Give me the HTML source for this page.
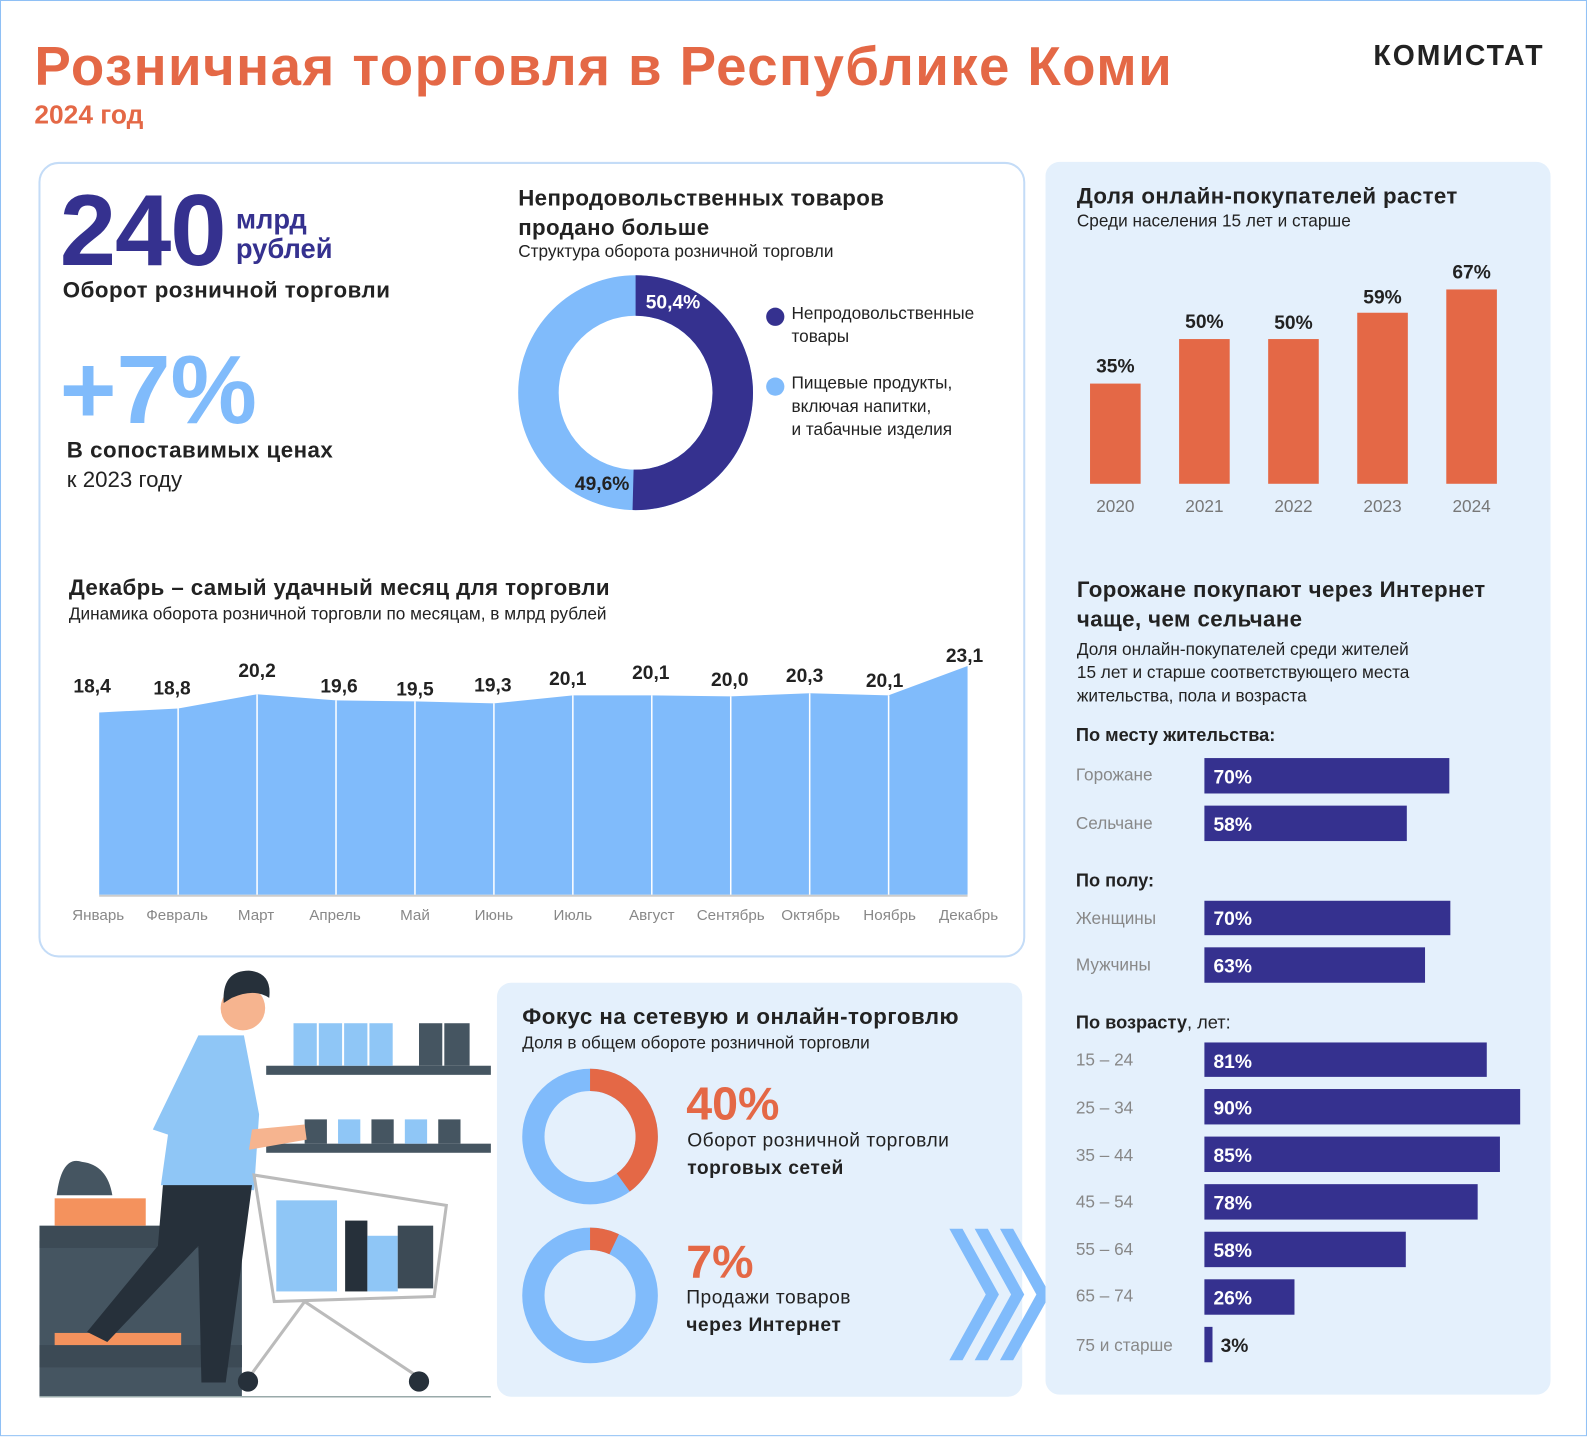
<!DOCTYPE html>
<html><head><meta charset="utf-8"><style>
*{margin:0;padding:0;box-sizing:border-box}
body{width:1587px;height:1436px;overflow:hidden;background:#fff;font-family:"Liberation Sans",sans-serif;color:#222}
#w{position:absolute;left:0;top:0;width:1568px;height:1419px;transform:scale(1.0121);transform-origin:0 0;border:1px solid #8fc0f5}
.a{position:absolute;white-space:nowrap}
.b{font-weight:bold}
</style></head><body><div id="w">
<div class="a b" style="left:33px;top:34px;font-size:54px;color:#e46846;letter-spacing:1.4px">Розничная торговля в Республике Коми</div>
<div class="a b" style="left:33px;top:97px;font-size:26px;color:#e46846">2024 год</div>
<div class="a b" style="left:1356px;top:38px;font-size:28px;color:#222;letter-spacing:2px">КОМИСТАТ</div>

<div class="a" style="left:37px;top:159px;width:975px;height:786px;border:2px solid #c4dcf7;border-radius:20px"></div>
<div class="a" style="left:1032px;top:159px;width:499px;height:1218px;background:#e4f0fc;border-radius:14px"></div>
<div class="a" style="left:490px;top:970px;width:519px;height:409px;background:#e4f0fc;border-radius:14px"></div>

<div class="a b" style="left:58px;top:170px;font-size:100px;color:#35318f;letter-spacing:-1px">240</div>
<div class="a b" style="left:232px;top:202px;font-size:27px;line-height:29px;color:#35318f">млрд<br>рублей</div>
<div class="a b" style="left:61px;top:273px;font-size:22px;letter-spacing:0.5px">Оборот розничной торговли</div>
<div class="a b" style="left:58px;top:330px;font-size:96px;color:#80bbfb">+7%</div>
<div class="a b" style="left:65px;top:431px;font-size:22px;letter-spacing:0.5px">В сопоставимых ценах</div>
<div class="a" style="left:65px;top:460px;font-size:22px">к 2023 году</div>

<div class="a b" style="left:511px;top:180px;font-size:22px;line-height:29px;letter-spacing:0.4px">Непродовольственных товаров<br>продано больше</div>
<div class="a" style="left:511px;top:238px;font-size:17px">Структура оборота розничной торговли</div>
<svg class="a" style="left:0;top:0" width="1568" height="1419">
<circle cx="627" cy="387" r="96" fill="none" stroke="#80bbfb" stroke-width="40"/>
<circle cx="627" cy="387" r="96" fill="none" stroke="#35318f" stroke-width="40" stroke-dasharray="304 700" transform="rotate(-90 627 387)"/>
<circle cx="765" cy="312" r="9" fill="#35318f"/>
<circle cx="765" cy="381" r="9" fill="#80bbfb"/>
<polygon fill="#80bbfb" points="97,883 97,703 175,699 253,685 331,691 409,692 487,694 565,686 643,686 721,687 799,684 877,686 955,657 955,883"/>
<g stroke="#fff" stroke-width="1.5"><line x1="175" y1="699" x2="175" y2="883"/><line x1="253" y1="685" x2="253" y2="883"/><line x1="331" y1="691" x2="331" y2="883"/><line x1="409" y1="692" x2="409" y2="883"/><line x1="487" y1="694" x2="487" y2="883"/><line x1="565" y1="686" x2="565" y2="883"/><line x1="643" y1="686" x2="643" y2="883"/><line x1="721" y1="687" x2="721" y2="883"/><line x1="799" y1="684" x2="799" y2="883"/><line x1="877" y1="686" x2="877" y2="883"/></g>
<line x1="97" y1="884" x2="955" y2="884" stroke="#ccc" stroke-width="2"/>
<g font-family="Liberation Sans" font-size="19" font-weight="bold" fill="#222" text-anchor="middle">
<text x="90" y="683">18,4</text><text x="169" y="685">18,8</text><text x="253" y="668">20,2</text><text x="334" y="683">19,6</text><text x="409" y="686">19,5</text><text x="486" y="682">19,3</text><text x="560" y="676">20,1</text><text x="642" y="670">20,1</text><text x="720" y="677">20,0</text><text x="794" y="673">20,3</text><text x="873" y="678">20,1</text><text x="952" y="653">23,1</text></g>
<g font-family="Liberation Sans" font-size="15" fill="#888" text-anchor="middle">
<text x="96" y="908">Январь</text><text x="174" y="908">Февраль</text><text x="252" y="908">Март</text><text x="330" y="908">Апрель</text><text x="409" y="908">Май</text><text x="487" y="908">Июнь</text><text x="565" y="908">Июль</text><text x="643" y="908">Август</text><text x="721" y="908">Сентябрь</text><text x="800" y="908">Октябрь</text><text x="878" y="908">Ноябрь</text><text x="956" y="908">Декабрь</text></g>
<g fill="#e46846"><rect x="1076" y="378" width="50" height="99"/><rect x="1164" y="334" width="50" height="143"/><rect x="1252" y="334" width="50" height="143"/><rect x="1340" y="308" width="50" height="169"/><rect x="1428" y="285" width="50" height="192"/></g>
<g font-family="Liberation Sans" font-size="19" font-weight="bold" fill="#222" text-anchor="middle"><text x="1101" y="367">35%</text><text x="1189" y="323">50%</text><text x="1277" y="324">50%</text><text x="1365" y="299">59%</text><text x="1453" y="274">67%</text></g>
<g font-family="Liberation Sans" font-size="17" fill="#777" text-anchor="middle"><text x="1101" y="505">2020</text><text x="1189" y="505">2021</text><text x="1277" y="505">2022</text><text x="1365" y="505">2023</text><text x="1453" y="505">2024</text></g>
<g fill="#35318f"><rect x="1189" y="748" width="242" height="35"/><rect x="1189" y="795" width="200" height="35"/><rect x="1189" y="889" width="243" height="34"/><rect x="1189" y="935" width="218" height="35"/><rect x="1189" y="1029" width="279" height="34"/><rect x="1189" y="1075" width="312" height="35"/><rect x="1189" y="1122" width="292" height="35"/><rect x="1189" y="1169" width="270" height="35"/><rect x="1189" y="1216" width="199" height="35"/><rect x="1189" y="1263" width="89" height="35"/><rect x="1189" y="1310" width="8" height="35"/></g>
<g font-family="Liberation Sans" font-size="19" font-weight="bold" fill="#fff"><text x="1198" y="773">70%</text><text x="1198" y="820">58%</text><text x="1198" y="913">70%</text><text x="1198" y="960">63%</text><text x="1198" y="1054">81%</text><text x="1198" y="1100">90%</text><text x="1198" y="1147">85%</text><text x="1198" y="1194">78%</text><text x="1198" y="1241">58%</text><text x="1198" y="1288">26%</text><text x="1205" y="1335" fill="#222">3%</text></g>
<g font-family="Liberation Sans" font-size="17" fill="#888"><text x="1062" y="770">Горожане</text><text x="1062" y="818">Сельчане</text><text x="1062" y="912">Женщины</text><text x="1062" y="958">Мужчины</text><text x="1062" y="1052">15 – 24</text><text x="1062" y="1099">25 – 34</text><text x="1062" y="1146">35 – 44</text><text x="1062" y="1192">45 – 54</text><text x="1062" y="1239">55 – 64</text><text x="1062" y="1285">65 – 74</text><text x="1062" y="1334">75 и старше</text></g>
<circle cx="582" cy="1122" r="56" fill="none" stroke="#80bbfb" stroke-width="22"/>
<circle cx="582" cy="1122" r="56" fill="none" stroke="#e46846" stroke-width="22" stroke-dasharray="140.7 400" transform="rotate(-90 582 1122)"/>
<circle cx="582" cy="1279" r="56" fill="none" stroke="#80bbfb" stroke-width="22"/>
<circle cx="582" cy="1279" r="56" fill="none" stroke="#e46846" stroke-width="22" stroke-dasharray="24.6 400" transform="rotate(-90 582 1279)"/>
<g fill="#80bbfb"><polygon points="937,1213 950,1213 986,1278 950,1343 937,1343 973,1278"/><polygon points="962,1213 975,1213 1011,1278 975,1343 962,1343 998,1278"/><polygon points="987,1213 1000,1213 1032,1270 1032,1286 1000,1343 987,1343 1023,1278"/></g>
<g>
<rect x="262" y="1052" width="222" height="9" fill="#455561"/><rect x="262" y="1129" width="222" height="9" fill="#455561"/>
<g fill="#8fc6f6"><rect x="289" y="1010" width="23" height="42"/><rect x="314" y="1010" width="23" height="42"/><rect x="339" y="1010" width="23" height="42"/><rect x="364" y="1010" width="23" height="42"/></g>
<g fill="#455561"><rect x="413" y="1010" width="23" height="42"/><rect x="438" y="1010" width="25" height="42"/><rect x="300" y="1105" width="22" height="24"/><rect x="366" y="1105" width="22" height="24"/><rect x="432" y="1105" width="22" height="24"/></g>
<g fill="#8fc6f6"><rect x="333" y="1105" width="22" height="24"/><rect x="399" y="1105" width="22" height="24"/></g>
<rect x="38" y="1225" width="200" height="154" fill="#455561"/><rect x="38" y="1210" width="200" height="22" fill="#3c4a55"/><rect x="38" y="1328" width="200" height="22" fill="#3c4a55"/>
<rect x="53" y="1183" width="90" height="27" fill="#f4925d"/><rect x="53" y="1316" width="125" height="12" fill="#f4925d"/>
<path d="M55 1180 Q60 1140 80 1147 Q105 1150 110 1180Z" fill="#455561"/>
<circle cx="239" cy="995" r="22" fill="#f6b48f"/><path d="M220 990 Q218 958 245 958 Q268 960 265 985 Q250 975 228 985Z" fill="#26303a"/>
<path d="M195 1022 L240 1022 L255 1100 L250 1175 L158 1170 L165 1120 L150 1115Z" fill="#8fc6f6"/>
<path d="M160 1170 L248 1170 L222 1365 L198 1365 L195 1230 L105 1325 L85 1315 L155 1230Z" fill="#26303a"/>
<path d="M248 1115 L300 1110 L302 1125 L245 1135Z" fill="#f6b48f"/>
<path d="M250 1160 L440 1190 L428 1280 L270 1285Z" fill="none" stroke="#bbb" stroke-width="3"/>
<rect x="272" y="1185" width="60" height="90" fill="#8fc6f6"/><rect x="340" y="1205" width="22" height="70" fill="#26303a"/><rect x="362" y="1220" width="30" height="55" fill="#8fc6f6"/><rect x="392" y="1210" width="35" height="62" fill="#3c4a55"/>
<path d="M300 1285 L245 1360 M300 1285 L410 1358" stroke="#bbb" stroke-width="3"/>
<circle cx="244" cy="1364" r="10" fill="#26303a"/><circle cx="413" cy="1364" r="10" fill="#26303a"/>
<line x1="38" y1="1379" x2="484" y2="1379" stroke="#9aa" stroke-width="1.5"/>
</g>
</svg>
<div class="a" style="left:781px;top:297px;font-size:17px;line-height:23px">Непродовольственные<br>товары</div>
<div class="a" style="left:781px;top:366px;font-size:17px;line-height:23px">Пищевые продукты,<br>включая напитки,<br>и табачные изделия</div>
<div class="a b" style="left:637px;top:288px;font-size:19px;color:#fff">50,4%</div>
<div class="a b" style="left:567px;top:467px;font-size:19px;color:#222">49,6%</div>

<div class="a b" style="left:67px;top:567px;font-size:22px;letter-spacing:0.4px">Декабрь – самый удачный месяц для торговли</div>
<div class="a" style="left:67px;top:596px;font-size:17px">Динамика оборота розничной торговли по месяцам, в млрд рублей</div>

<div class="a b" style="left:1063px;top:180px;font-size:22px;letter-spacing:0.4px">Доля онлайн-покупателей растет</div>
<div class="a" style="left:1063px;top:208px;font-size:17px">Среди населения 15 лет и старше</div>
<div class="a b" style="left:1063px;top:567px;font-size:22px;line-height:29px;letter-spacing:0.4px">Горожане покупают через Интернет<br>чаще, чем сельчане</div>
<div class="a" style="left:1063px;top:629px;font-size:17px;line-height:23px">Доля онлайн-покупателей среди жителей<br>15 лет и старше соответствующего места<br>жительства, пола и возраста</div>
<div class="a b" style="left:1062px;top:715px;font-size:18px">По месту жительства:</div>
<div class="a b" style="left:1062px;top:859px;font-size:18px">По полу:</div>
<div class="a" style="left:1062px;top:999px;font-size:18px"><b>По возрасту</b>, лет:</div>

<div class="a b" style="left:515px;top:991px;font-size:22px;letter-spacing:0.5px">Фокус на сетевую и онлайн-торговлю</div>
<div class="a" style="left:515px;top:1020px;font-size:17px">Доля в общем обороте розничной торговли</div>
<div class="a b" style="left:677px;top:1062px;font-size:46px;color:#e46846">40%</div>
<div class="a" style="left:678px;top:1113px;font-size:19px;line-height:27px;letter-spacing:0.5px">Оборот розничной торговли<br><b>торговых сетей</b></div>
<div class="a b" style="left:677px;top:1218px;font-size:46px;color:#e46846">7%</div>
<div class="a" style="left:677px;top:1268px;font-size:19px;line-height:27px;letter-spacing:0.5px">Продажи товаров<br><b>через Интернет</b></div>
</div></body></html>
